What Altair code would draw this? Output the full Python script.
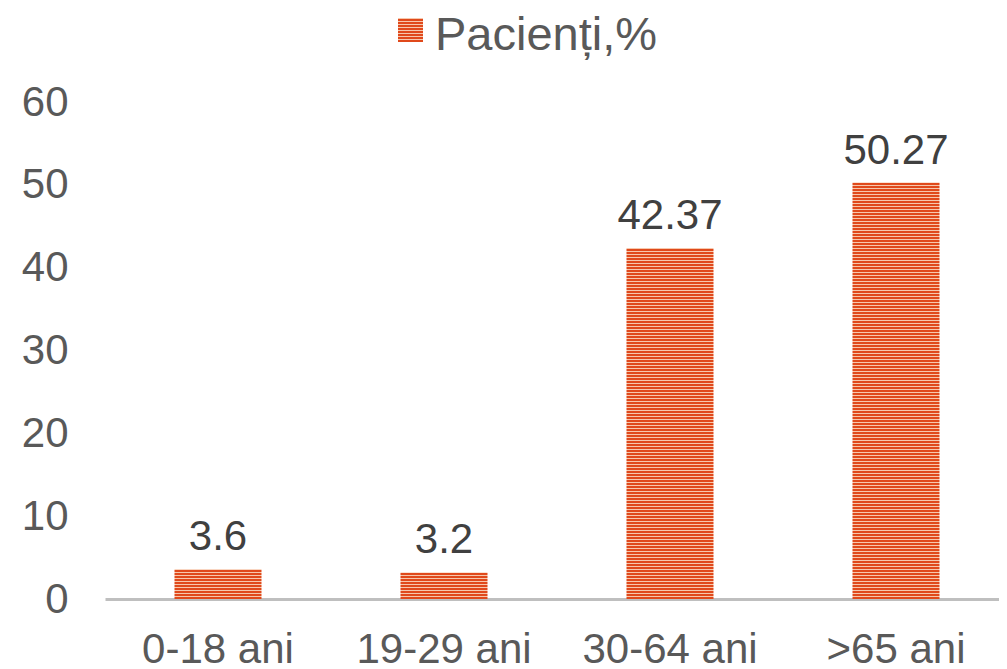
import altair as alt
import pandas as pd

categories = ["0-18 ani", "19-29 ani", "30-64 ani", ">65 ani"]
values = [3.6, 3.2, 42.37, 50.27]
series_name = "Pacienți,%"
y_ticks = [0, 10, 20, 30, 40, 50, 60]

W, H = 904, 497
Y_MAX = 60
DARK = "#E0491B"
LIGHT = "#F7C7AC"
FONT = "Liberation Sans"

df = pd.DataFrame({"cat": categories, "val": values})


def stripes(h_px, period=3.0, dark_px=2.0):
    # stripes counted from the bottom edge of the mark
    stops = []
    pos = 0.0
    while pos < h_px:
        a = pos / h_px
        b = min(pos + dark_px, h_px) / h_px
        c = min(pos + period, h_px) / h_px
        stops += [
            alt.GradientStop(offset=a, color=DARK),
            alt.GradientStop(offset=b, color=DARK),
            alt.GradientStop(offset=b, color=LIGHT),
            alt.GradientStop(offset=c, color=LIGHT),
        ]
        pos += period
    return alt.LinearGradient(gradient="linear", stops=stops, x1=0, x2=0, y1=1, y2=0)


x_enc = alt.X(
    "cat:N",
    sort=categories,
    scale=alt.Scale(paddingInner=0.615, paddingOuter=0.3075),
    axis=alt.Axis(
        title=None,
        ticks=False,
        labelAngle=0,
        labelFont=FONT,
        labelFontSize=42,
        labelColor="#595959",
        labelPadding=30,
        domainColor="#BFBFBF",
        domainWidth=3,
    ),
)
y_enc = alt.Y(
    "val:Q",
    scale=alt.Scale(domain=[0, Y_MAX], nice=False),
    axis=alt.Axis(
        title=None,
        values=y_ticks,
        domain=False,
        ticks=False,
        grid=False,
        labelFont=FONT,
        labelFontSize=42,
        labelColor="#595959",
        labelPadding=37,
        minExtent=97,
        maxExtent=97,
    ),
)

bar_layers = []
for c, v in zip(categories, values):
    h_px = v / Y_MAX * H
    bar_layers.append(
        alt.Chart(df)
        .transform_filter(alt.datum.cat == c)
        .mark_bar(color=stripes(h_px))
        .encode(x=x_enc, y=y_enc)
    )

labels = (
    alt.Chart(df)
    .mark_text(font=FONT, fontSize=42, color="#404040", baseline="alphabetic", dy=-19)
    .encode(x=x_enc, y=y_enc, text=alt.Text("val:Q"))
)

leg_df = pd.DataFrame({"label": [series_name]})
leg_sym = (
    alt.Chart(leg_df)
    .mark_rect(color=stripes(24))
    .encode(x=alt.value(293), x2=alt.value(318), y=alt.value(-84), y2=alt.value(-60))
)
leg_txt = (
    alt.Chart(leg_df)
    .mark_text(font=FONT, fontSize=47, color="#595959", align="left", baseline="middle")
    .encode(x=alt.value(330), y=alt.value(-66), text="label:N")
)

chart = (
    alt.layer(*bar_layers, labels, leg_sym, leg_txt)
    .properties(
        width=W,
        height=H,
        autosize=alt.AutoSizeParams(type="none"),
        padding={"left": 97, "top": 94, "right": -10, "bottom": 67},
    )
    .configure_view(stroke=None)
)

chart.save("out.html", embed_options={"renderer": "svg", "actions": False})
